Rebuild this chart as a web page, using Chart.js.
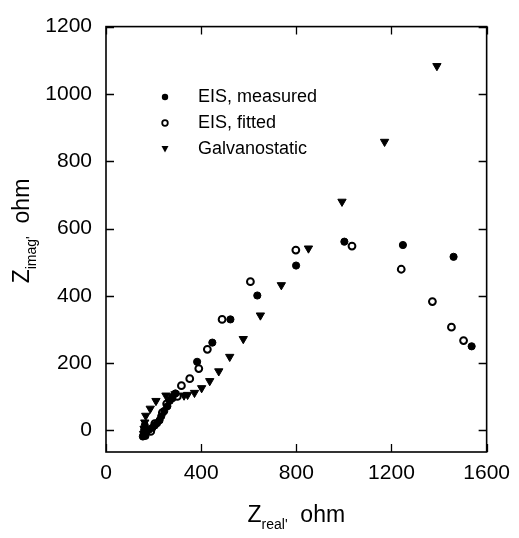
<!DOCTYPE html>
<html>
<head>
<meta charset="utf-8">
<script src="https://cdn.jsdelivr.net/npm/chart.js@4.4.0/dist/chart.umd.min.js"></script>
<style>
  html, body { margin: 0; padding: 0; background: #fff; }
  #caja { width: 519px; height: 538px; }
</style>
</head>
<body>
<div id="caja"><canvas id="grafico"></canvas></div>
<script>
// DATOS

const nombresSeries = ['EIS, measured', 'EIS, fitted', 'Galvanostatic'];

const medidoX = [155, 158, 160, 163, 166, 170, 180, 195, 205, 215, 225, 232, 245, 258, 268, 280, 292, 383, 447, 523, 636, 799, 1002, 1248, 1461, 1537];
const medidoY = [-18, -12, 0, 15, -16, -5, 2, 8, 15, 22, 30, 42, 58, 72, 88, 100, 110, 204, 261, 330, 401, 490, 561, 551, 516, 250];

const ajustadoX = [188, 205, 237, 255, 279, 300, 317, 352, 390, 426, 488, 607, 798, 1034, 1241, 1372, 1452, 1503];
const ajustadoY = [-3, 20, 53, 79, 97, 101, 133, 154, 184, 241, 330, 442, 536, 548, 479, 383, 307, 267];

const galvanoX = [158, 160, 163, 167, 186, 210, 252, 290, 328, 343, 372, 402, 436, 474, 520, 577, 649, 737, 851, 992, 1171, 1391];
const galvanoY = [-10, 5, 24, 44, 65, 88, 104, 108, 104, 106, 112, 126, 147, 176, 219, 272, 342, 432, 541, 680, 858, 1083];

const ticksX = [0, 400, 800, 1200, 1600];
const ticksY = [0, 200, 400, 600, 800, 1000, 1200];

function puntos(xs, ys) {
  return xs.map((x, i) => ({ x: x, y: ys[i] }));
}

const fuente = '"Liberation Sans", Arial, sans-serif';

// marco, marcas hacia dentro, titulos de ejes y leyenda
const marco = {
  id: 'marco',
  afterDraw(chart) {
    const ctx = chart.ctx;
    const a = chart.chartArea;
    const sx = chart.scales.x;
    const sy = chart.scales.y;
    ctx.save();
    ctx.strokeStyle = '#000';
    ctx.lineWidth = 1.6;
    ctx.strokeRect(a.left, a.top, a.right - a.left, a.bottom - a.top);

    ctx.lineWidth = 1.3;
    ctx.beginPath();
    ticksX.forEach(v => {
      const px = Math.round(sx.getPixelForValue(v)) + 0.5;
      ctx.moveTo(px, a.bottom); ctx.lineTo(px, a.bottom - 8);
      ctx.moveTo(px, a.top); ctx.lineTo(px, a.top + 8);
    });
    ticksY.forEach(v => {
      const py = Math.round(sy.getPixelForValue(v)) + 0.5;
      ctx.moveTo(a.left, py); ctx.lineTo(a.left + 8, py);
      ctx.moveTo(a.right, py); ctx.lineTo(a.right - 8, py);
    });
    ctx.stroke();

    // titulos de ejes con subindice
    ctx.fillStyle = '#000';
    ctx.textBaseline = 'alphabetic';
    ctx.textAlign = 'left';
    const grande = '23px ' + fuente;
    const chico = '14px ' + fuente;
    function titulo(base, sub, resto) {
      ctx.font = grande; const w1 = ctx.measureText(base).width;
      ctx.font = chico; const w2 = ctx.measureText(sub).width;
      ctx.font = grande; const w3 = ctx.measureText(resto).width;
      const total = w1 + w2 + w3;
      let x = -total / 2;
      ctx.font = grande; ctx.fillText(base, x, 0); x += w1;
      ctx.font = chico; ctx.fillText(sub, x, 7); x += w2;
      ctx.font = grande; ctx.fillText(resto, x, 0);
    }
    ctx.save();
    ctx.translate((a.left + a.right) / 2, 522);
    titulo('Z', "real'", '  ohm');
    ctx.restore();

    ctx.save();
    ctx.translate(29, 231);
    ctx.rotate(-Math.PI / 2);
    titulo('Z', "imag'", '  ohm');
    ctx.restore();

    // leyenda
    const filas = [97, 123, 149];
    const mx = 165;
    ctx.font = '18px ' + fuente;
    ctx.textBaseline = 'middle';
    nombresSeries.forEach((n, i) => {
      const y = filas[i];
      ctx.fillStyle = '#000';
      ctx.strokeStyle = '#000';
      if (i === 0) {
        ctx.beginPath(); ctx.arc(mx, y, 3.2, 0, Math.PI * 2); ctx.fill();
      } else if (i === 1) {
        ctx.lineWidth = 1.8;
        ctx.beginPath(); ctx.arc(mx, y, 2.8, 0, Math.PI * 2); ctx.stroke();
      } else {
        ctx.beginPath();
        ctx.moveTo(mx - 3.5, y - 3); ctx.lineTo(mx + 3.5, y - 3); ctx.lineTo(mx, y + 3.5);
        ctx.closePath(); ctx.fill();
      }
      ctx.fillText(n, 198, y);
    });
    ctx.restore();
  }
};

const ctx = document.getElementById('grafico').getContext('2d');
const grafico = new Chart(ctx, {
  type: 'scatter',
  data: {
    datasets: [
      {
        label: nombresSeries[0],
        data: puntos(medidoX, medidoY),
        pointStyle: 'circle',
        pointRadius: 3.6,
        backgroundColor: '#000',
        borderColor: '#000',
        borderWidth: 1
      },
      {
        label: nombresSeries[1],
        data: puntos(ajustadoX, ajustadoY),
        pointStyle: 'circle',
        pointRadius: 3.4,
        backgroundColor: '#fff',
        borderColor: '#000',
        borderWidth: 2
      },
      {
        label: nombresSeries[2],
        data: puntos(galvanoX, galvanoY),
        pointStyle: 'triangle',
        rotation: 180,
        pointRadius: 4.8,
        backgroundColor: '#000',
        borderColor: '#000',
        borderWidth: 1
      }
    ]
  },
  options: {
    responsive: true,
    maintainAspectRatio: false,
    animation: false,
    layout: { padding: { left: 0, top: 16, right: 32, bottom: 0 } },
    plugins: {
      legend: { display: false },
      tooltip: { enabled: false }
    },
    scales: {
      x: {
        type: 'linear',
        min: 0,
        max: 1600,
        afterBuildTicks: s => { s.ticks = ticksX.map(v => ({ value: v })); },
        afterFit: s => { s.height = 86; },
        grid: { display: false, drawTicks: false },
        border: { display: false },
        ticks: { color: '#000', padding: 9, font: { family: fuente, size: 21 }, callback: v => String(v) }
      },
      y: {
        type: 'linear',
        min: -64,
        max: 1200,
        afterBuildTicks: s => { s.ticks = ticksY.map(v => ({ value: v })); },
        afterFit: s => { s.width = 106; },
        grid: { display: false, drawTicks: false },
        border: { display: false },
        ticks: { color: '#000', padding: 14, font: { family: fuente, size: 21 }, callback: v => String(v) }
      }
    }
  },
  plugins: [marco]
});
</script>
</body>
</html>
